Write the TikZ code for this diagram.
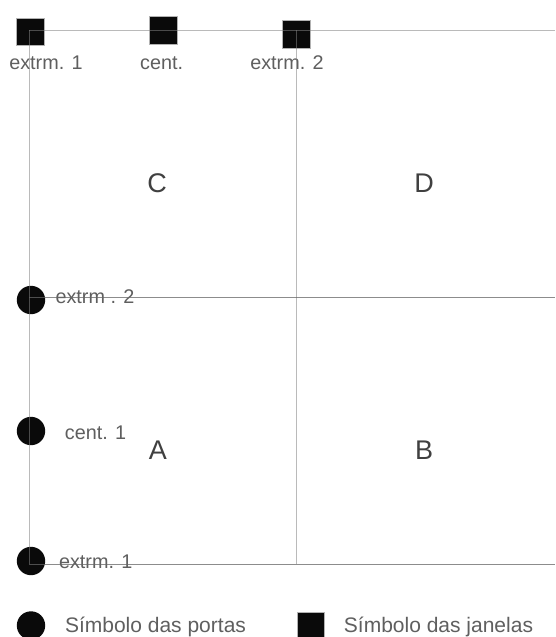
\documentclass[tikz,border=0pt]{standalone}
\usepackage{fontspec}
\setmainfont{Liberation Sans}
\definecolor{lbl}{HTML}{5F5F5F}
\definecolor{big}{HTML}{404040}
\definecolor{mark}{HTML}{0A0A0A}
\definecolor{gridA}{HTML}{828282}
\definecolor{gridB}{HTML}{666666}
\tikzset{
  sq/.style={draw=gray!60,line width=.5pt,fill=mark,minimum size=27.5pt,inner sep=0pt,outer sep=0pt},
  circ/.style={circle,fill=mark,minimum size=28.4pt,inner sep=0pt,outer sep=0pt},
  lab/.style={text=lbl,inner sep=0pt,font=\fontsize{19.8}{22}\selectfont,anchor=base},
  leg/.style={text=lbl,inner sep=0pt,font=\fontsize{21}{23}\selectfont,anchor=base},
  zone/.style={text=big,inner sep=0pt,font=\fontsize{27}{29}\selectfont,anchor=base},
  gridl/.style={draw=gridA,line width=.9pt,draw opacity=.55},
  gridd/.style={draw=gridB,line width=.9pt,draw opacity=.75}
}
\begin{document}
\begin{tikzpicture}[x=1pt,y=-1pt]
\useasboundingbox[fill=white] (0,0) rectangle (555,637);
% squares and circles
\node[sq] (s1) at (30.3,31.7) {};
\node[sq] (s2) at (163,30) {};
\node[sq] (s3) at (296.3,34.3) {};
\node[circ] (c1) at (31,300) {};
\node[circ] (c2) at (31,431) {};
\node[circ] (c3) at (31,561) {};
\node[circ] (lc) at (31,625.5) {};
\node[sq] (ls) at (310.5,625.5) {};
% labels
\node[lab] (t1) at (46,69) {extrm. 1};
\node[lab] (t2) at (161.7,69) {cent.};
\node[lab] (t3) at (287,69) {extrm. 2};
\node[lab] (t4) at (95,303) {extrm . 2};
\node[lab] (t5) at (95.5,439) {cent. 1};
\node[lab] (t6) at (95.7,568) {extrm. 1};
\node[leg] (t7) at (155.5,632) {Símbolo das portas};
\node[leg] (t8) at (438.5,632) {Símbolo das janelas};
\node[zone] (zc) at (157,192.5) {C};
\node[zone] (zd) at (424,192) {D};
\node[zone] (za) at (158,459) {A};
\node[zone] (zb) at (424,459) {B};
% grid
\coordinate (tl) at (29.4,30);
\coordinate (tm) at (296.5,30);
\coordinate (tr) at (555,30);
\coordinate (ml) at (29.4,297.3);
\coordinate (mr) at (555,297.3);
\coordinate (bl) at (29.4,564.3);
\coordinate (bm) at (296.5,564.3);
\coordinate (br) at (555,564.3);
\draw[gridl] (tl) -- (bl);
\draw[gridl] (tm) -- (bm);
\draw[gridl] (tl) -- (tr);
\draw[gridd] (ml) -- (mr);
\draw[gridd] (bl) -- (br);
\end{tikzpicture}
\end{document}
